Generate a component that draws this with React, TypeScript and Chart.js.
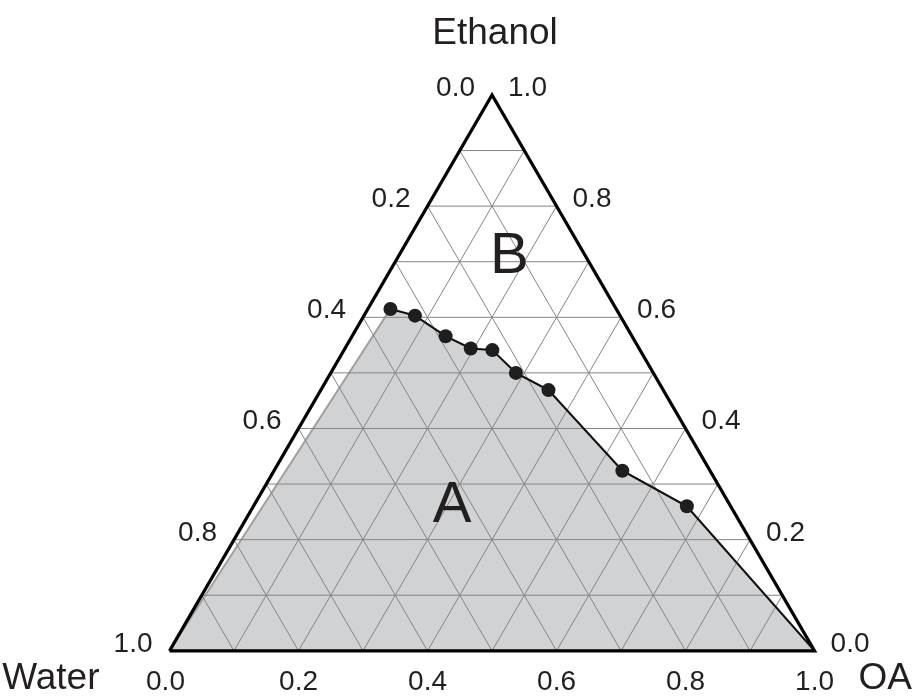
import React, { useEffect, useRef } from "react";
import { Chart, registerables } from "chart.js";

Chart.register(...registerables);

// Binodal (tie) points, as mass fractions
const ethanolFrac = [0.615, 0.603, 0.566, 0.544, 0.541, 0.5, 0.469, 0.324, 0.26];
const oaFrac = [0.035, 0.079, 0.145, 0.195, 0.23, 0.287, 0.353, 0.54, 0.672];

// Axis tick labels
const tickValues = [0.0, 0.2, 0.4, 0.6, 0.8, 1.0];
const gridSteps = [0.1, 0.2, 0.3, 0.4, 0.5, 0.6, 0.7, 0.8, 0.9];

// Titles
const topTitle = "Ethanol";
const leftTitle = "Water";
const rightTitle = "OA";
const regionLabels = ["A", "B"];

const SQ = Math.sqrt(3) / 2;
const toXY = (e: number, oa: number) => ({ x: oa + e / 2, y: e * SQ });

const FONT = "'Liberation Sans', Arial, Helvetica, sans-serif";

export default function App() {
  const ref = useRef<HTMLCanvasElement | null>(null);

  useEffect(() => {
    if (!ref.current) return;

    const gridDatasets: any[] = [];
    const gridStyle = {
      type: "line",
      borderColor: "#858585",
      borderWidth: 1,
      pointRadius: 0,
      fill: false,
      order: 5,
    };
    gridSteps.forEach((t) => {
      gridDatasets.push({ ...gridStyle, data: [toXY(t, 0), toXY(t, 1 - t)] });
      gridDatasets.push({ ...gridStyle, data: [toXY(0, t), toXY(1 - t, t)] });
      gridDatasets.push({ ...gridStyle, data: [toXY(0, 1 - t), toXY(1 - t, 0)] });
    });

    const curvePts = ethanolFrac.map((e, i) => toXY(e, oaFrac[i]));
    const regionPoly = [toXY(0, 0), ...curvePts, toXY(0, 1), toXY(0, 0)];
    const curveLine = [...curvePts, toXY(0, 1)];
    const triangle = [toXY(0, 0), toXY(1, 0), toXY(0, 1), toXY(0, 0)];

    const textPlugin = {
      id: "ternaryText",
      afterDraw(chart: any) {
        const { ctx, scales } = chart;
        const px = (p: { x: number; y: number }) => ({
          x: scales.x.getPixelForValue(p.x),
          y: scales.y.getPixelForValue(p.y),
        });
        ctx.save();
        ctx.fillStyle = "#231f20";
        ctx.textBaseline = "alphabetic";
        ctx.font = `28px ${FONT}`;
        tickValues.forEach((v) => {
          const l = px(toXY(1 - v, 0));
          ctx.textAlign = "right";
          ctx.fillText(v.toFixed(1), l.x - 17, l.y + 1);
          const r = px(toXY(v, 1 - v));
          ctx.textAlign = "left";
          ctx.fillText(v.toFixed(1), r.x + 16, r.y + 1);
          const b = px(toXY(0, v));
          ctx.textAlign = "center";
          ctx.fillText(v.toFixed(1), b.x - (v === 0 ? 4 : 0), b.y + 39);
        });
        ctx.font = `37px ${FONT}`;
        const apex = px(toXY(1, 0));
        ctx.textAlign = "center";
        ctx.fillText(topTitle, apex.x + 3, 44);
        const w = px(toXY(0, 0));
        ctx.textAlign = "right";
        ctx.fillText(leftTitle, w.x - 70, w.y + 38);
        const o = px(toXY(0, 1));
        ctx.textAlign = "left";
        ctx.fillText(rightTitle, o.x + 44, o.y + 38);
        ctx.font = `58px ${FONT}`;
        ctx.textAlign = "center";
        const a = px({ x: 0.438, y: 0.2 });
        ctx.fillText(regionLabels[0], a.x, a.y);
        const bb = px({ x: 0.527, y: 0.588 });
        ctx.fillText(regionLabels[1], bb.x, bb.y);
        ctx.restore();
      },
    };

    const chart = new Chart(ref.current, {
      type: "scatter",
      data: {
        datasets: [
          {
            type: "line",
            data: curveLine,
            borderColor: "#111111",
            borderWidth: 2,
            pointRadius: curveLine.map((_, i) => (i < curvePts.length ? 7 : 0)),
            pointBackgroundColor: "#1e1e1e",
            pointBorderWidth: 0,
            fill: false,
            order: 1,
          },
          {
            type: "line",
            data: triangle,
            borderColor: "#000000",
            borderWidth: 3.2,
            pointRadius: 0,
            fill: false,
            order: 2,
            borderJoinStyle: "miter",
          },
          ...gridDatasets,
          {
            type: "line",
            data: regionPoly,
            borderColor: "#a0a0a0",
            borderWidth: 2,
            backgroundColor: "#d1d2d4",
            pointRadius: 0,
            fill: "shape",
            order: 10,
          },
        ],
      },
      options: {
        animation: false,
        responsive: false,
        layout: { padding: 0 },
        plugins: {
          legend: { display: false },
          tooltip: { enabled: false },
          title: { display: false },
        },
        scales: {
          x: { type: "linear", display: false, min: -165 / 655, max: (924 - 165) / 655 },
          y: { type: "linear", display: false, min: -(698 - 657) / 655, max: 657 / 655 },
        },
        elements: { line: { tension: 0 } },
      },
      plugins: [textPlugin],
    } as any);

    return () => chart.destroy();
  }, []);

  return (
    <div style={{ position: "absolute", left: 0, top: 0, width: 924, height: 698, background: "#ffffff" }}>
      <canvas ref={ref} width={924} height={698} style={{ display: "block" }} />
    </div>
  );
}
